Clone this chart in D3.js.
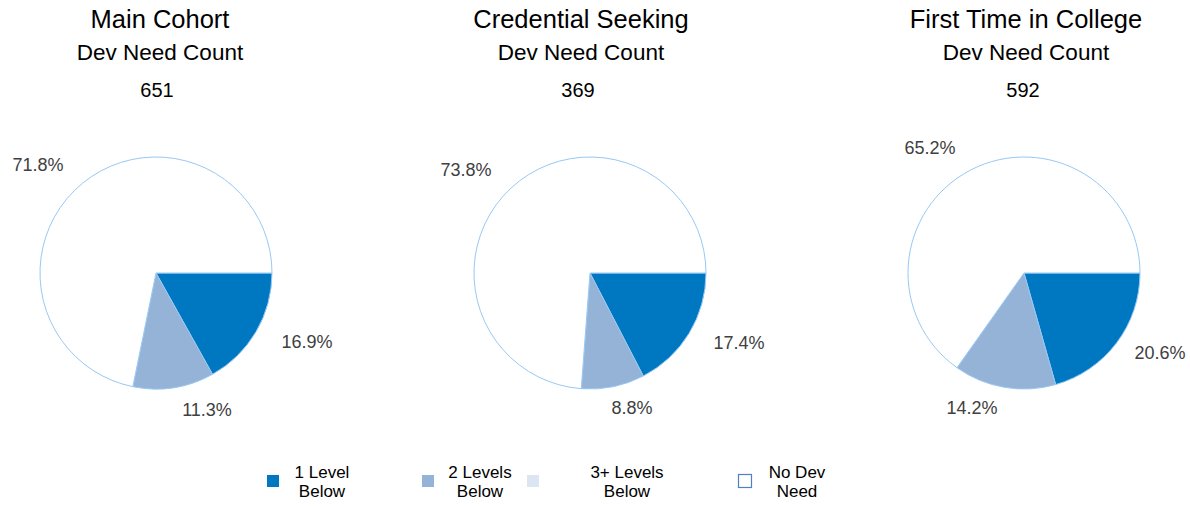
<!DOCTYPE html>
<html>
<head>
<meta charset="utf-8">
<script src="https://cdn.jsdelivr.net/npm/d3@7"></script>
<style>
  html, body { margin: 0; padding: 0; background: #fff; }
  svg { display: block; font-family: "Liberation Sans", Arial, sans-serif; }
</style>
</head>
<body>
<svg id="chart" width="1190" height="506"></svg>
<script>
// ---- data ----
const categories = ["1 Level Below", "2 Levels Below", "3+ Levels Below", "No Dev Need"];
const legendLines = [["1 Level", "Below"], ["2 Levels", "Below"], ["3+ Levels", "Below"], ["No Dev", "Need"]];
const chartTitles = ["Main Cohort", "Credential Seeking", "First Time in College"];
const subtitle = "Dev Need Count";
const counts = [651, 369, 592];
const mainCohort = [16.9, 11.3, 0, 71.8];
const credentialSeeking = [17.4, 8.8, 0, 73.8];
const firstTimeCollege = [20.6, 14.2, 0, 65.2];
const seriesValues = [mainCohort, credentialSeeking, firstTimeCollege];

// ---- layout / style ----
const colors = ["#0078c1", "#95b3d7", "#dce6f2", "#ffffff"];
const sliceStroke = "#98c8f4";
const titleX = [160, 581, 1026];
const pieCx = [156, 590, 1024];
const pieCy = 273;
const radius = 116;
// label offsets relative to pie centre (dx, dy) per category
const labelOffsets = [
  [[151, 69], [51, 137], null, [-118, -108]],
  [[149, 70], [42, 135], null, [-124, -103]],
  [[136, 80], [-52, 135], null, [-94, -125]]
];
const legendSquareX = [267, 422, 527, 738];
const legendTextX = [322, 480, 627, 797];

const svg = d3.select("#chart");
const pie = d3.pie().sort(null).value(d => d)
  .startAngle(Math.PI / 2).endAngle(Math.PI / 2 + 2 * Math.PI);
const arc = d3.arc().innerRadius(0).outerRadius(radius);

seriesValues.forEach((vals, i) => {
  const g = svg.append("g");
  g.append("text").attr("x", titleX[i]).attr("y", 28).attr("text-anchor", "middle")
    .attr("font-size", 25.5).attr("fill", "#000").text(chartTitles[i]);
  g.append("text").attr("x", titleX[i]).attr("y", 60).attr("text-anchor", "middle")
    .attr("font-size", 22.5).attr("fill", "#000").text(subtitle);
  g.append("text").attr("x", titleX[i] - 3).attr("y", 97).attr("text-anchor", "middle")
    .attr("font-size", 20).attr("fill", "#000").text(counts[i]);

  const pg = g.append("g").attr("transform", `translate(${pieCx[i]},${pieCy})`);
  const arcs = pie(vals);
  pg.selectAll("path").data(arcs.filter(d => d.value > 0)).join("path")
    .attr("d", arc)
    .attr("fill", d => colors[d.index])
    .attr("stroke", sliceStroke)
    .attr("stroke-width", 1);

  arcs.forEach(d => {
    const off = labelOffsets[i][d.index];
    if (!off || d.value <= 0) return;
    pg.append("text").attr("x", off[0]).attr("y", off[1])
      .attr("text-anchor", "middle").attr("dominant-baseline", "central")
      .attr("font-size", 18).attr("fill", "#404040")
      .text(d3.format(".1f")(d.value) + "%");
  });
});

// legend
const lg = svg.append("g");
categories.forEach((c, k) => {
  const isWhite = k === 3;
  lg.append("rect")
    .attr("x", legendSquareX[k] + (isWhite ? 0.5 : 0)).attr("y", isWhite ? 474.5 : 475)
    .attr("width", isWhite ? 13 : 12).attr("height", isWhite ? 13 : 12)
    .attr("fill", colors[k])
    .attr("stroke", isWhite ? "#4f81bd" : "none")
    .attr("stroke-width", 1.2);
  legendLines[k].forEach((ln, j) => {
    lg.append("text").attr("x", legendTextX[k]).attr("y", 478 + j * 19)
      .attr("text-anchor", "middle").attr("font-size", 17).attr("fill", "#000")
      .text(ln);
  });
});
</script>
</body>
</html>
